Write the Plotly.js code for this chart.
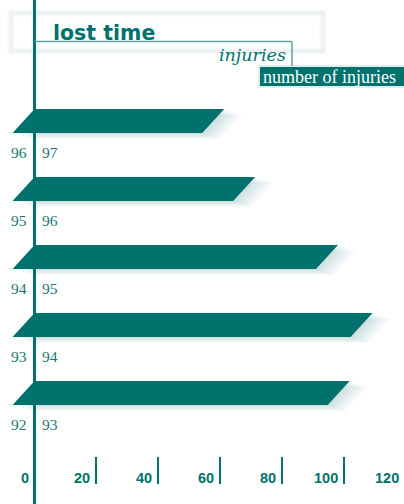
<!DOCTYPE html>
<html>
<head>
<meta charset="utf-8">
<script src="https://cdn.plot.ly/plotly-3.0.1.min.js"></script>
<style>
html,body{margin:0;padding:0;overflow:hidden;background:#fff;width:404px;height:504px;}
#chart{width:406px;height:504px;}
</style>
</head>
<body>
<div id="chart"></div>
<script>
// Data (bottom to top)
const fromYears = ["92", "93", "94", "95", "96"];
const toYears   = ["93", "94", "95", "96", "97"];
const injuries  = [102, 109.4, 98.2, 71.4, 61.4];
const tickValues = [0, 20, 40, 60, 80, 100, 120];
const tickLabels = ["0", "20", "40", "60", "80", "100", "120"];

const W = 406, H = 504;
const TEAL = "#00726e";
const TEXT_TEAL = "#1a7672";
const xRange = [-11.17, 120.2];
const yRange = [-1.632, 5.779];
const pxX = W / (xRange[1] - xRange[0]);
const pxY = H / (yRange[1] - yRange[0]);
const slant = 22 / pxX;
const halfH = 12 / pxY;

const traces = [];
// soft shadows (layered translucent copies)
const shadowSteps = [[3,1],[6,2],[9,3],[12,4],[15,5],[18,6]];
injuries.forEach((v, i) => {
  shadowSteps.forEach(([dx, dy]) => {
    const ox = dx / pxX, oy = -dy / pxY;
    traces.push({
      type: "scatter", mode: "lines",
      x: [0 + ox, v + ox, v - slant + ox, -slant + ox, 0 + ox],
      y: [i + halfH + oy, i + halfH + oy, i - halfH + oy, i - halfH + oy, i + halfH + oy],
      fill: "toself", fillcolor: "rgba(40,100,100,0.035)",
      line: {width: 0}, hoverinfo: "skip", showlegend: false
    });
  });
});
// bars
injuries.forEach((v, i) => {
  traces.push({
    type: "scatter", mode: "lines",
    x: [0, v, v - slant, -slant, 0],
    y: [i + halfH, i + halfH, i - halfH, i - halfH, i + halfH],
    fill: "toself", fillcolor: TEAL,
    line: {width: 0}, hoverinfo: "skip", showlegend: false,
    name: fromYears[i] + "-" + toYears[i]
  });
});

const annotations = [];
fromYears.forEach((f, i) => {
  annotations.push({x: 0, y: i - 0.47, xref: "x", yref: "y", text: f, showarrow: false,
    xanchor: "right", yanchor: "middle", xshift: -6,
    font: {family: "Liberation Serif", size: 15.5, color: TEXT_TEAL}});
  annotations.push({x: 0, y: i - 0.47, xref: "x", yref: "y", text: toYears[i], showarrow: false,
    xanchor: "left", yanchor: "middle", xshift: 5,
    font: {family: "Liberation Serif", size: 15.5, color: TEXT_TEAL}});
});
// x tick labels (right-aligned just left of each tick)
tickValues.forEach((t, k) => {
  annotations.push({x: t, y: 1 - 478 / H, xref: "x", yref: "paper", text: tickLabels[k],
    showarrow: false, xanchor: "right", yanchor: "middle", xshift: -4,
    font: {family: "Liberation Sans", size: 14.5, color: TEAL, weight: "bold"}});
});
const px = (p) => p / W;
const py = (p) => 1 - p / H;
annotations.push({xref: "paper", yref: "paper", x: px(51), y: py(33), text: "lost time",
  showarrow: false, xanchor: "left", yanchor: "middle",
  font: {family: "DejaVu Sans", size: 20.5, color: TEAL, weight: "bold"}});
annotations.push({xref: "paper", yref: "paper", x: px(288), y: py(55), text: "injuries",
  showarrow: false, xanchor: "right", yanchor: "middle",
  font: {family: "DejaVu Serif", size: 17.5, color: TEAL, style: "italic"}});
annotations.push({xref: "paper", yref: "paper", x: px(261), y: py(77), text: "number of injuries",
  showarrow: false, xanchor: "left", yanchor: "middle",
  font: {family: "Liberation Serif", size: 18, color: "#ffffff"}});

const shapes = [
  // faint title frame (soft)
  {type: "rect", xref: "paper", yref: "paper", x0: px(11), x1: px(323), y0: py(13), y1: py(51),
    line: {color: "rgba(60,110,110,0.05)", width: 7}, fillcolor: "rgba(0,0,0,0)", layer: "below"},
  {type: "rect", xref: "paper", yref: "paper", x0: px(11), x1: px(323), y0: py(13), y1: py(51),
    line: {color: "rgba(60,110,110,0.05)", width: 3}, fillcolor: "rgba(0,0,0,0)", layer: "below"},
  // title rules
  {type: "line", xref: "paper", yref: "paper", x0: px(34.5), x1: px(292), y0: py(41.5), y1: py(41.5),
    line: {color: "#5fa3a0", width: 1.5}},
  {type: "line", xref: "paper", yref: "paper", x0: px(292), x1: px(292), y0: py(41.5), y1: py(66),
    line: {color: "#5fa3a0", width: 1.5}},
  // legend box
  {type: "rect", xref: "paper", yref: "paper", x0: px(258), x1: px(406), y0: py(65), y1: py(88),
    line: {width: 0}, fillcolor: "rgba(0,114,110,0.12)", layer: "below"},
  {type: "rect", xref: "paper", yref: "paper", x0: px(260), x1: px(406), y0: py(67), y1: py(86),
    line: {width: 0}, fillcolor: TEAL, layer: "below"}
];

const layout = {
  width: W, height: H,
  margin: {l: 0, r: 0, t: 0, b: 0, pad: 0},
  paper_bgcolor: "#ffffff", plot_bgcolor: "#ffffff",
  showlegend: false,
  xaxis: {
    range: xRange, fixedrange: true,
    anchor: "free", position: 20 / H,
    showgrid: false, showline: false,
    zeroline: true, zerolinecolor: TEAL, zerolinewidth: 2.5,
    tickmode: "array", tickvals: tickValues.slice(1), showticklabels: false,
    ticks: "inside", ticklen: 27, tickwidth: 2, tickcolor: TEAL
  },
  yaxis: {range: yRange, visible: false, fixedrange: true, showgrid: false, zeroline: false},
  annotations: annotations,
  shapes: shapes
};

Plotly.newPlot("chart", traces, layout, {displayModeBar: false, staticPlot: true});
</script>
</body>
</html>
